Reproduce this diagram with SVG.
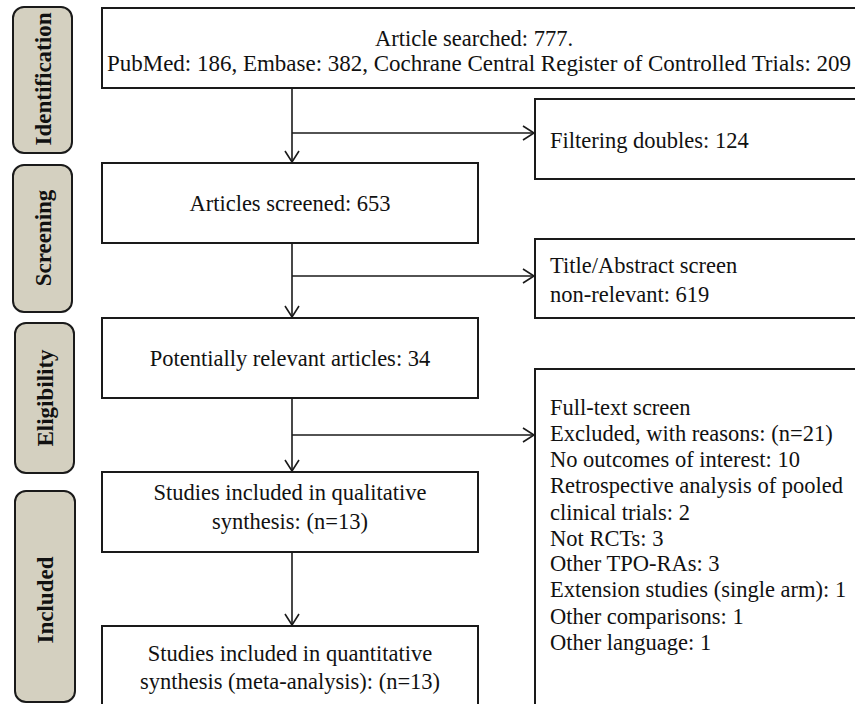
<svg xmlns="http://www.w3.org/2000/svg" width="855" height="704" viewBox="0 0 855 704">
<defs>
<style>
.box{fill:#fff;stroke:#1a1a1a;stroke-width:2}
.stage{fill:#d4d0c0;stroke:#1a1a1a;stroke-width:2}
.t{font-family:"Liberation Serif","Times New Roman",serif;font-size:22.5px;fill:#111}
.c{text-anchor:middle}
.s{font-family:"Liberation Serif","Times New Roman",serif;font-size:23px;font-weight:bold;fill:#111;text-anchor:middle}
.ln{fill:none;stroke:#1a1a1a;stroke-width:1.6}
</style>
<marker id="ah" markerWidth="14" markerHeight="16" refX="12" refY="8" orient="auto" markerUnits="userSpaceOnUse">
<path d="M1,1 L12,8 L1,15" fill="none" stroke="#1a1a1a" stroke-width="1.6"/>
</marker>
</defs>
<rect width="855" height="704" fill="#fff"/>

<g id="stage-identification">
<rect class="stage" x="13" y="7" width="59" height="146" rx="11"/>
<text class="s" transform="translate(51,79) rotate(-90)">Identification</text>
</g>
<g id="stage-screening">
<rect class="stage" x="13" y="165" width="59" height="147" rx="11"/>
<text class="s" transform="translate(51,238) rotate(-90)">Screening</text>
</g>
<g id="stage-eligibility">
<rect class="stage" x="15" y="323" width="59" height="150" rx="11"/>
<text class="s" transform="translate(53,398) rotate(-90)">Eligibility</text>
</g>
<g id="stage-included">
<rect class="stage" x="15" y="491" width="60" height="211" rx="11"/>
<text class="s" transform="translate(53,600) rotate(-90)">Included</text>
</g>

<g id="node-search">
<rect class="box" x="102" y="8" width="760" height="80"/>
<text class="t c" x="474" y="46">Article searched: 777.</text>
<text class="t c" x="479" y="71" textLength="744" lengthAdjust="spacingAndGlyphs">PubMed: 186, Embase: 382, Cochrane Central Register of Controlled Trials: 209</text>
</g>
<g id="node-screened">
<rect class="box" x="102" y="163" width="376" height="80"/>
<text class="t c" x="290" y="211">Articles screened: 653</text>
</g>
<g id="node-relevant">
<rect class="box" x="102" y="318" width="376" height="80"/>
<text class="t c" x="290" y="366">Potentially relevant articles: 34</text>
</g>
<g id="node-qualitative">
<rect class="box" x="102" y="472" width="376" height="80"/>
<text class="t c" x="290" y="500">Studies included in qualitative</text>
<text class="t c" x="290" y="529">synthesis: (n=13)</text>
</g>
<g id="node-quantitative">
<rect class="box" x="102" y="626" width="376" height="90"/>
<text class="t c" x="290" y="661">Studies included in quantitative</text>
<text class="t c" x="290" y="689">synthesis (meta-analysis): (n=13)</text>
</g>
<g id="node-doubles">
<rect class="box" x="535" y="99" width="330" height="80"/>
<text class="t" x="550" y="148">Filtering doubles: 124</text>
</g>
<g id="node-title">
<rect class="box" x="535" y="239" width="330" height="79"/>
<text class="t" x="550" y="273">Title/Abstract screen</text>
<text class="t" x="550" y="302">non-relevant: 619</text>
</g>
<g id="node-fulltext">
<rect class="box" x="535" y="369" width="330" height="350"/>
<text class="t" x="550" y="415">Full-text screen</text>
<text class="t" x="550" y="441">Excluded, with reasons: (n=21)</text>
<text class="t" x="550" y="467">No outcomes of interest: 10</text>
<text class="t" x="550" y="493">Retrospective analysis of pooled</text>
<text class="t" x="550" y="520">clinical trials: 2</text>
<text class="t" x="550" y="546">Not RCTs: 3</text>
<text class="t" x="550" y="571">Other TPO-RAs: 3</text>
<text class="t" x="550" y="597">Extension studies (single arm): 1</text>
<text class="t" x="550" y="624">Other comparisons: 1</text>
<text class="t" x="550" y="650">Other language: 1</text>
</g>

<g id="connectors">
<line class="ln" x1="292" y1="88" x2="292" y2="162" marker-end="url(#ah)"/>
<line class="ln" x1="292" y1="133" x2="534" y2="133" marker-end="url(#ah)"/>
<line class="ln" x1="292" y1="243" x2="292" y2="317" marker-end="url(#ah)"/>
<line class="ln" x1="292" y1="276" x2="534" y2="276" marker-end="url(#ah)"/>
<line class="ln" x1="292" y1="398" x2="292" y2="471" marker-end="url(#ah)"/>
<line class="ln" x1="292" y1="435" x2="534" y2="435" marker-end="url(#ah)"/>
<line class="ln" x1="292" y1="552" x2="292" y2="625" marker-end="url(#ah)"/>
</g>
</svg>
